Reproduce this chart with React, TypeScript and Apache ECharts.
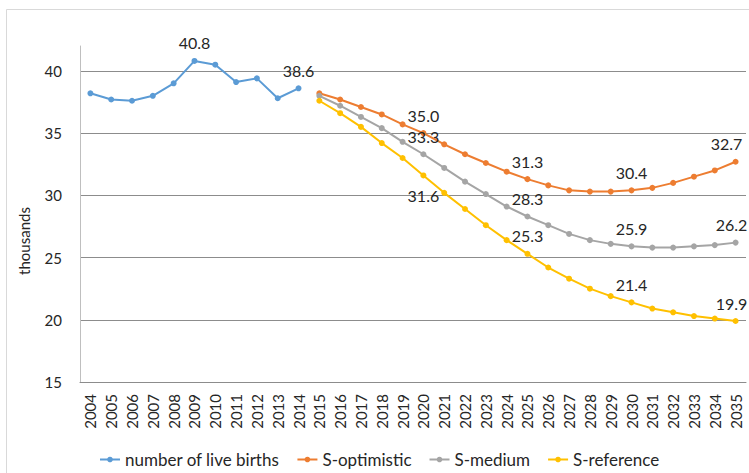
import React, { useEffect, useRef } from "react";
import * as echarts from "echarts";

const years = [
  "2004", "2005", "2006", "2007", "2008", "2009", "2010", "2011", "2012", "2013", "2014",
  "2015", "2016", "2017", "2018", "2019", "2020", "2021", "2022", "2023", "2024", "2025",
  "2026", "2027", "2028", "2029", "2030", "2031", "2032", "2033", "2034", "2035",
];

// 2004–2014
const liveBirths = [38.2, 37.7, 37.6, 38.0, 39.0, 40.8, 40.5, 39.1, 39.4, 37.8, 38.6];
// 2015–2035
const sOptimistic = [38.2, 37.7, 37.1, 36.5, 35.7, 35.0, 34.1, 33.3, 32.6, 31.9, 31.3, 30.8, 30.4, 30.3, 30.3, 30.4, 30.6, 31.0, 31.5, 32.0, 32.7];
const sMedium = [38.0, 37.2, 36.3, 35.4, 34.3, 33.3, 32.2, 31.1, 30.1, 29.1, 28.3, 27.6, 26.9, 26.4, 26.1, 25.9, 25.8, 25.8, 25.9, 26.0, 26.2];
const sReference = [37.6, 36.6, 35.5, 34.2, 33.0, 31.6, 30.2, 28.9, 27.6, 26.4, 25.3, 24.2, 23.3, 22.5, 21.9, 21.4, 20.9, 20.6, 20.3, 20.1, 19.9];

const birthsLabelYears = ["2009", "2014"];
const scenarioLabelYears = ["2020", "2025", "2030", "2035"];
const yTicks = { min: 15, max: 42, interval: 5 };

const seriesNames = ["number of live births", "S-optimistic", "S-medium", "S-reference"];
const colors = ["#5B9BD5", "#ED7D31", "#A5A5A5", "#FFC000"];

const FONT = "Lato";

function buildData(
  values: number[],
  startIndex: number,
  labelYears: string[],
  labelPos: (year: string) => { position: string; offset?: number[] }
) {
  return years.map((y, i) => {
    const k = i - startIndex;
    if (k < 0 || k >= values.length) return null;
    const v = values[k];
    if (labelYears.includes(y)) {
      const p = labelPos(y);
      return {
        value: v,
        label: {
          show: true,
          position: p.position,
          offset: p.offset || [0, 0],
          distance: 7,
          formatter: (d: any) => Number(d.value).toFixed(1),
          fontFamily: FONT,
          fontSize: 16,
          color: "#262626",
        },
      };
    }
    return v;
  });
}

export default function App() {
  const ref = useRef<HTMLDivElement>(null);
  useEffect(() => {
    if (!ref.current) return;
    const chart = echarts.init(ref.current, undefined, { renderer: "svg" });
    const lineSeries = (name: string, color: string, data: any[]) => ({
      name,
      type: "line",
      data,
      symbol: "circle",
      symbolSize: 6,
      lineStyle: { width: 2, color },
      itemStyle: { color },
      emphasis: { disabled: true },
    });
    chart.setOption({
      animation: false,
      backgroundColor: "#ffffff",
      textStyle: { fontFamily: FONT },
      graphic: [
        {
          type: "rect",
          shape: { x: 6.5, y: 9.5, width: 800, height: 600 },
          style: { fill: "none", stroke: "#d9d9d9", lineWidth: 1 },
          silent: true,
        },
        {
          type: "text",
          x: 24,
          y: 241,
          rotation: Math.PI / 2,
          style: {
            text: "thousands",
            fontFamily: FONT,
            fontSize: 15,
            fill: "#262626",
            align: "center",
            verticalAlign: "middle",
          },
        },
      ],
      grid: { left: 80, right: 3, top: 46, bottom: 91, outerBoundsMode: "none" },
      legend: {
        data: seriesNames,
        left: 94,
        top: 446,
        itemWidth: 20,
        itemHeight: 7,
        itemGap: 17,
        textStyle: { fontFamily: FONT, fontSize: 17, color: "#262626" },
      },
      xAxis: {
        type: "category",
        data: years,
        boundaryGap: true,
        axisLine: { show: true, lineStyle: { color: "#8c8c8c", width: 1 } },
        axisTick: { show: false },
        axisLabel: {
          rotate: 90,
          interval: 0,
          margin: 12,
          fontFamily: FONT,
          fontSize: 15,
          color: "#262626",
        },
      },
      yAxis: {
        type: "value",
        min: yTicks.min,
        max: yTicks.max,
        interval: yTicks.interval,
        axisLine: { show: true, lineStyle: { color: "#bfbfbf", width: 1 } },
        axisTick: { show: false },
        axisLabel: {
          margin: 18,
          fontFamily: FONT,
          fontSize: 15,
          color: "#262626",
          showMaxLabel: false,
        },
        splitLine: {
          show: true,
          showMaxLine: false,
          lineStyle: { color: "#8c8c8c", width: 1 },
        },
      },
      series: [
        lineSeries(seriesNames[0], colors[0], buildData(liveBirths, 0, birthsLabelYears, () => ({ position: "top" }))),
        lineSeries(
          seriesNames[1],
          colors[1],
          buildData(sOptimistic, 11, scenarioLabelYears, (y) => ({ position: "top", offset: y === "2035" ? [-9, 0] : [0, 0] }))
        ),
        lineSeries(
          seriesNames[2],
          colors[2],
          buildData(sMedium, 11, scenarioLabelYears, (y) => ({ position: "top", offset: y === "2035" ? [-4, 0] : [0, 0] }))
        ),
        lineSeries(
          seriesNames[3],
          colors[3],
          buildData(sReference, 11, scenarioLabelYears, (y) =>
            y === "2020" ? { position: "bottom", offset: [0, 2] } : { position: "top", offset: y === "2035" ? [-4, 0] : [0, 0] }
          )
        ),
      ],
    });
    return () => chart.dispose();
  }, []);
  return (
    <div
      ref={ref}
      style={{ position: "fixed", left: 0, top: 0, width: 749, height: 473, background: "#fff" }}
    />
  );
}
